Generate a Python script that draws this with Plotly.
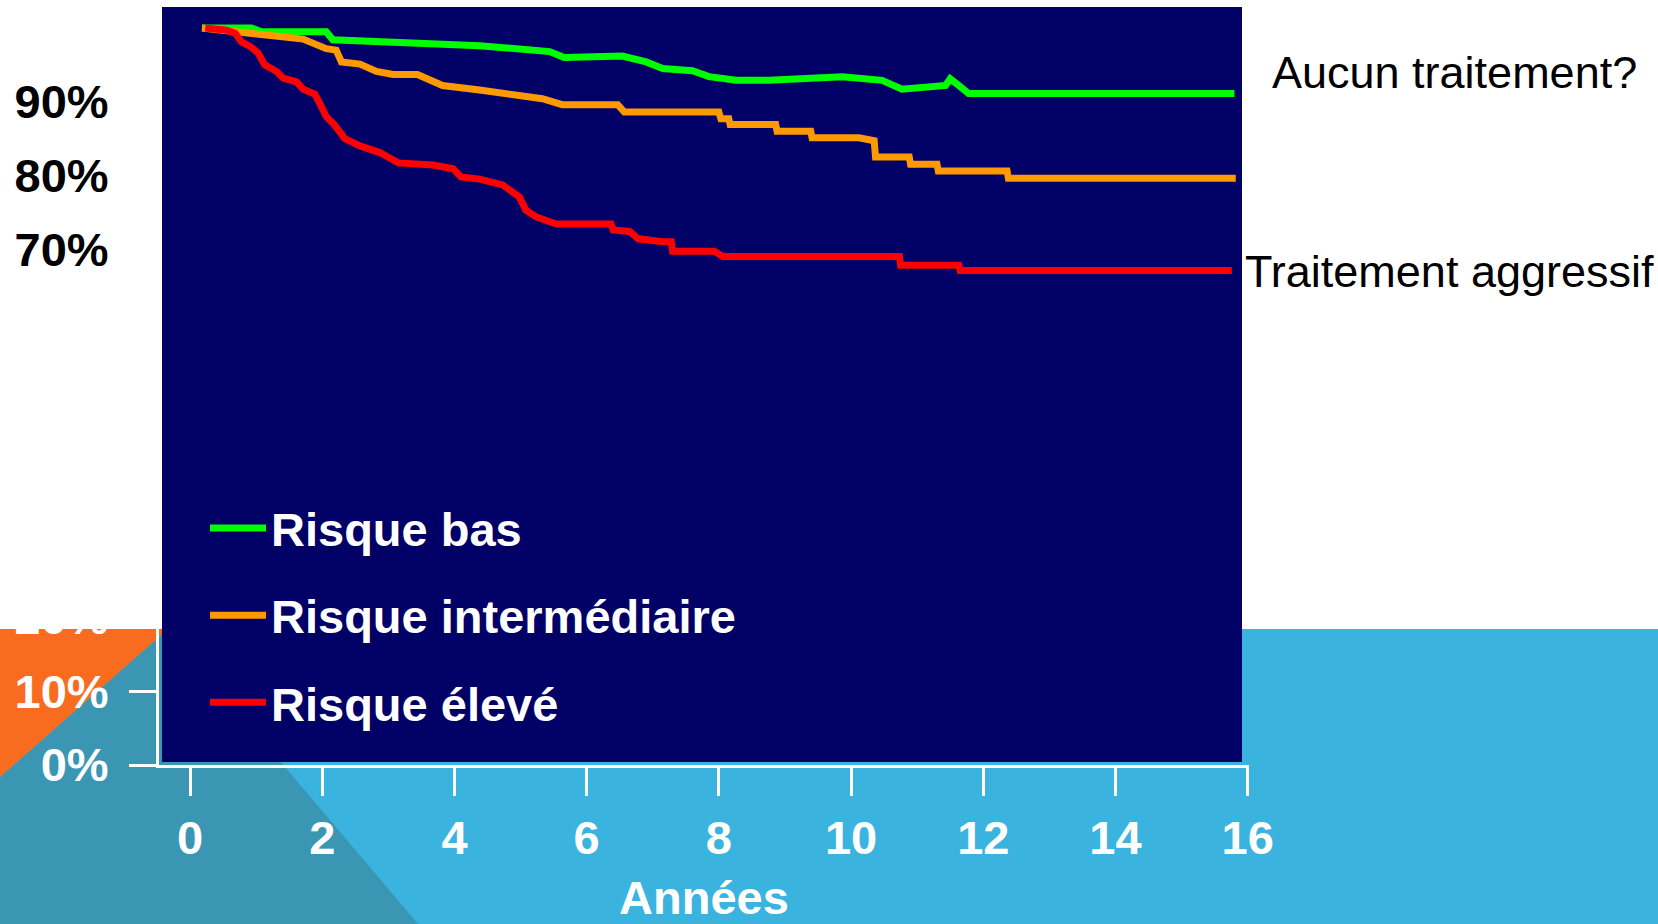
import plotly.graph_objects as go

# survival curves (years, % without recurrence)
bas_x = [0.18, 0.93, 1.08, 2.06, 2.16, 4.38, 5.44, 5.66, 6.54, 6.9, 7.15, 7.6, 7.85, 8.26, 8.76,
         9.87, 10.47, 10.77, 11.43, 11.5, 11.63, 11.78, 15.8]
bas_y = [100.0, 100.0, 99.5, 99.5, 98.4, 97.6, 96.8, 96.0, 96.2, 95.4, 94.5, 94.2, 93.4, 92.9, 92.9,
         93.4, 92.9, 91.7, 92.2, 93.1, 92.2, 91.1, 91.1]

inter_x = [0.18, 1.71, 2.06, 2.21, 2.29, 2.57, 2.82, 3.07, 3.44, 3.82, 4.38, 4.73, 5.33, 5.63, 6.47,
           6.57, 8.0, 8.03, 8.15, 8.17, 8.86, 8.88, 9.39, 9.41, 10.12, 10.35, 10.37, 10.88, 10.9,
           11.3, 11.32, 12.36, 12.38, 15.82]
inter_y = [100.0, 98.5, 97.2, 97.0, 95.4, 95.1, 94.1, 93.7, 93.7, 92.2, 91.6, 91.1, 90.4, 89.6, 89.6,
           88.6, 88.6, 87.7, 87.7, 86.9, 86.9, 86.0, 86.0, 85.1, 85.1, 84.7, 82.5, 82.5, 81.5,
           81.5, 80.6, 80.6, 79.6, 79.6]

eleve_x = [0.23, 0.55, 0.68, 0.78, 0.91, 1.03, 1.13, 1.31, 1.41, 1.61, 1.71, 1.89, 1.96, 2.06, 2.19,
           2.34, 2.57, 2.87, 3.15, 3.68, 3.98, 4.1, 4.38, 4.53, 4.73, 4.98, 5.08, 5.23, 5.54, 6.37,
           6.4, 6.65, 6.78, 7.15, 7.28, 7.3, 7.93, 8.06, 10.73, 10.75, 11.63, 11.65, 15.76]
eleve_y = [100.0, 99.7, 99.3, 98.1, 97.5, 96.6, 95.0, 94.1, 93.2, 92.7, 91.7, 91.0, 89.8, 88.0, 86.8,
           85.0, 84.0, 83.1, 81.7, 81.4, 80.9, 79.8, 79.5, 79.1, 78.7, 77.1, 75.3, 74.4, 73.4, 73.4,
           72.6, 72.4, 71.4, 71.0, 71.0, 69.7, 69.7, 69.0, 69.0, 67.8, 67.8, 67.1, 67.1]

series_names = ["Risque bas", "Risque intermédiaire", "Risque élevé"]

x_ticks = [0, 2, 4, 6, 8, 10, 12, 14, 16]
y_ticks = [0, 10, 20, 70, 80, 90]
y_labels = ["0%", "10%", "20%", "70%", "80%", "90%"]
y_label_colors = ["white", "white", "white", "black", "black", "black"]

W, H = 1658, 924
L, R, T, B = 159, 1249, 7, 765  # plot area in pixels


def px(p):
    return (p - L) / (R - L)


def py(p):
    return (B - p) / (B - T)


bold = dict(family="Liberation Sans, Arial, sans-serif", size=47, color="white", weight="bold")
plain = dict(family="Liberation Sans, Arial, sans-serif", size=45, color="black")

fig = go.Figure()
for name, xs, ys, col in zip(series_names, [bas_x, inter_x, eleve_x], [bas_y, inter_y, eleve_y],
                             ["#00FF00", "#FF9900", "#FF0000"]):
    fig.add_trace(go.Scatter(x=xs, y=ys, name=name, mode="lines", legendgroup=name,
                             line=dict(color=col, width=7), hoverinfo="skip"))

# slide background pieces
shapes = [
    dict(type="rect", x0=px(0), x1=px(W), y0=py(629), y1=py(0), fillcolor="white", line_width=0),
    dict(type="path", fillcolor="#3A96B3", line_width=0,
         path=f"M {px(0)},{py(777)} L {px(168)},{py(629)} L {px(418)},{py(H)} L {px(0)},{py(H)} Z"),
    dict(type="path", fillcolor="#F96B1F", line_width=0,
         path=f"M {px(0)},{py(629)} L {px(168)},{py(629)} L {px(0)},{py(777)} Z"),
    dict(type="rect", x0=px(162), x1=px(1242), y0=py(762), y1=py(7), fillcolor="#000066", line_width=0),
]
for s in shapes:
    s.update(xref="paper", yref="paper", layer="below")

ticktext = [f'<span style="color:{c}">{t}</span>' for t, c in zip(y_labels, y_label_colors)]

fig.update_layout(
    width=W, height=H,
    margin=dict(l=L, r=W - R, t=T, b=H - B, autoexpand=False),
    paper_bgcolor="#3BB3DF",
    plot_bgcolor="rgba(0,0,0,0)",
    shapes=shapes,
    showlegend=True,
    legend=dict(x=px(205), y=py(491), xanchor="left", yanchor="top", font=bold,
                bgcolor="rgba(0,0,0,0)", tracegroupgap=23, itemwidth=56),
    xaxis=dict(range=[-0.47, 16.02], tickvals=x_ticks, showgrid=False, zeroline=False,
               showline=True, linecolor="white", linewidth=3, ticks="outside", ticklen=28,
               tickwidth=3, tickcolor="white", tickfont=bold, ticklabelstandoff=2,
               title=dict(text="Années", font=bold, standoff=28)),
    yaxis=dict(range=[0, 102.85], tickvals=y_ticks, ticktext=ticktext, showgrid=False,
               zeroline=False, showline=True, linecolor="white", linewidth=3, ticks="outside",
               ticklen=27, tickwidth=3, tickcolor="white", tickfont=bold, ticklabelstandoff=11),
    annotations=[
        dict(text="Aucun traitement?", x=px(1454), y=py(72), xref="paper", yref="paper",
             showarrow=False, font=plain, xanchor="center", yanchor="middle"),
        dict(text="Traitement aggressif", x=px(1449), y=py(271), xref="paper", yref="paper",
             showarrow=False, font=plain, xanchor="center", yanchor="middle"),
    ],
)

fig.write_html("out.html", config={"displayModeBar": False},
               post_script="document.body.style.margin='0';")
